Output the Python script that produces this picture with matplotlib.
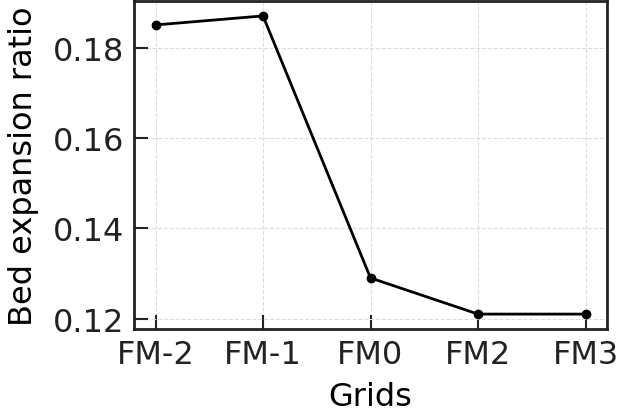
import numpy as np
import matplotlib.pyplot as plt

# Datos del gráfico
grids = ['FM-2', 'FM-1', 'FM0', 'FM2', 'FM3']
ratio = [0.185, 0.187, 0.129, 0.121, 0.121]

fig = plt.figure(figsize=(6.2, 4.14), dpi=100)
ax = fig.add_axes([134/620, 1 - 330/414, (607-134)/620, (330-2)/414])

x = np.arange(len(grids))
ax.plot(x, ratio, color='black', lw=2, marker='o', ms=6)

ax.set_xticks(x)
ax.set_xticklabels(grids)
ax.set_yticks([0.12, 0.14, 0.16, 0.18])
ax.set_xlabel('Grids', fontsize=23, labelpad=8)
ax.set_ylabel('Bed expansion ratio', fontsize=23, labelpad=10)
ax.tick_params(direction='in', length=10, width=1.5, pad=7, labelsize=23, colors='#222222')
ax.grid(True, ls='--', color='#dddddd', lw=0.8)
for s in ax.spines.values():
    s.set_linewidth(2)
    s.set_color('#222222')

fig.savefig('out.png', dpi=100)
